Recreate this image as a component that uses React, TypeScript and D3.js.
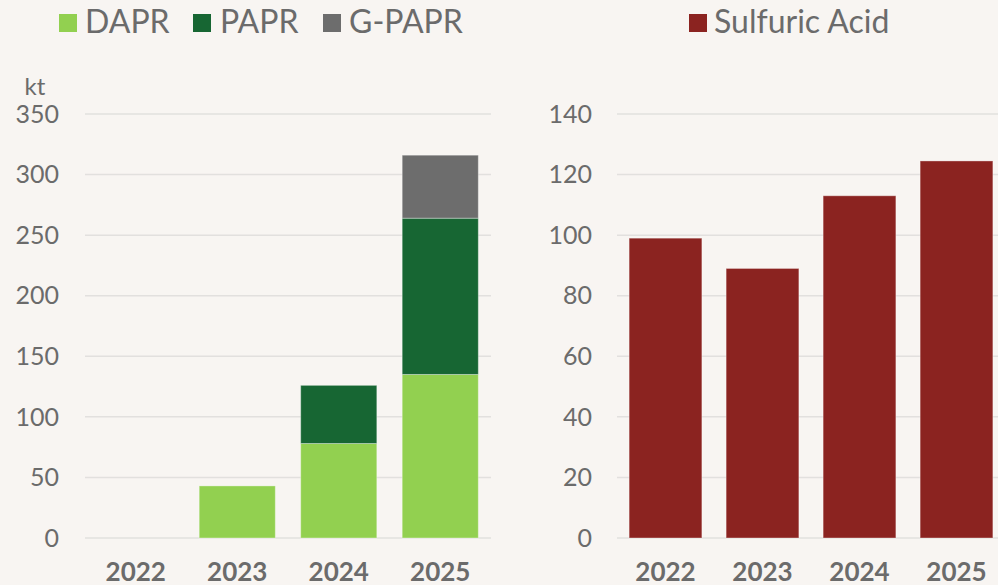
import React from "react";
import * as d3 from "d3";

const years = ["2022", "2023", "2024", "2025"];
const dapr = [0, 43, 78, 135];
const papr = [0, 0, 48, 129];
const gpapr = [0, 0, 0, 52];
const sulfuric = [99, 89, 113, 124.5];
const leftTicks = [0, 50, 100, 150, 200, 250, 300, 350];
const rightTicks = [0, 20, 40, 60, 80, 100, 120, 140];

const W = 998;
const H = 585;
const BG = "#f8f5f2";
const TXT = "#6b6b6b";
const GRID = "#e2e0de";
const FONT = "Lato, 'Open Sans', sans-serif";

const seriesDefs = [
  { name: "DAPR", color: "#92d050", values: dapr },
  { name: "PAPR", color: "#176633", values: papr },
  { name: "G-PAPR", color: "#6d6d6d", values: gpapr },
];

export default function App() {
  const top = 114;
  const base = 538;

  // left chart
  const xL = d3.scaleBand().domain(years).range([85, 491]).paddingInner(0.25).paddingOuter(0.125);
  const yL = d3.scaleLinear().domain([0, 350]).range([base, top]);

  const stackData = years.map((y, i) => {
    const o: any = { year: y };
    seriesDefs.forEach(s => (o[s.name] = s.values[i]));
    return o;
  });
  const stacked = d3.stack<any>().keys(seriesDefs.map(s => s.name))(stackData);

  // right chart
  const xR = d3.scaleBand().domain(years).range([617, 1005]).paddingInner(0.25).paddingOuter(0.125);
  const yR = d3.scaleLinear().domain([0, 140]).range([base, top]);

  const legendL = [
    { name: "DAPR", color: "#92d050", x: 59, tx: 85 },
    { name: "PAPR", color: "#176633", x: 193, tx: 220 },
    { name: "G-PAPR", color: "#6d6d6d", x: 323, tx: 349 },
  ];

  return (
    <div style={{ position: "fixed", left: 0, top: 0, width: W, height: H, background: BG }}>
      <svg width={W} height={H} style={{ display: "block", fontFamily: FONT }}>
        <rect x={0} y={0} width={W} height={H} fill={BG} />

        {/* legends */}
        {legendL.map(l => (
          <g key={l.name}>
            <rect x={l.x} y={14} width={18} height={18} fill={l.color} />
            <text x={l.tx} y={33} fontSize={32} fill={TXT}>{l.name}</text>
          </g>
        ))}
        <rect x={689} y={14} width={18} height={18} fill="#8b2320" />
        <text x={714} y={33} fontSize={32} fill={TXT}>Sulfuric Acid</text>

        {/* left axis */}
        <text x={35} y={95} fontSize={24} fill={TXT} textAnchor="middle">kt</text>
        {leftTicks.map(t => (
          <g key={"l" + t}>
            <line x1={85} x2={491} y1={yL(t)} y2={yL(t)} stroke={GRID} strokeWidth={1.5} />
            <text x={59} y={yL(t)} dy="0.35em" fontSize={25} fill={TXT} textAnchor="end">{t}</text>
          </g>
        ))}
        {stacked.map((layer, si) => (
          <g key={layer.key} fill={seriesDefs[si].color}>
            {layer.map((d, i) =>
              d[1] - d[0] > 0 ? (
                <rect
                  key={i}
                  x={xL(years[i])}
                  y={yL(d[1])}
                  width={xL.bandwidth()}
                  height={yL(d[0]) - yL(d[1])}
                  stroke="rgba(255,255,255,0.35)"
                  strokeWidth={1}
                />
              ) : null
            )}
          </g>
        ))}
        {years.map(y => (
          <text key={"xl" + y} x={(xL(y) as number) + xL.bandwidth() / 2} y={581} fontSize={26} fontWeight="bold" fill={TXT} textAnchor="middle">{y}</text>
        ))}

        {/* right axis */}
        {rightTicks.map(t => (
          <g key={"r" + t}>
            <line x1={617} x2={998} y1={yR(t)} y2={yR(t)} stroke={GRID} strokeWidth={1.5} />
            <text x={592} y={yR(t)} dy="0.35em" fontSize={25} fill={TXT} textAnchor="end">{t}</text>
          </g>
        ))}
        {years.map((y, i) => (
          <rect
            key={"rb" + y}
            x={xR(y)}
            y={yR(sulfuric[i])}
            width={xR.bandwidth()}
            height={yR(0) - yR(sulfuric[i])}
            fill="#8b2320"
            stroke="rgba(255,255,255,0.35)"
            strokeWidth={1}
          />
        ))}
        {years.map(y => (
          <text key={"xr" + y} x={(xR(y) as number) + xR.bandwidth() / 2} y={581} fontSize={26} fontWeight="bold" fill={TXT} textAnchor="middle">{y}</text>
        ))}
      </svg>
    </div>
  );
}
